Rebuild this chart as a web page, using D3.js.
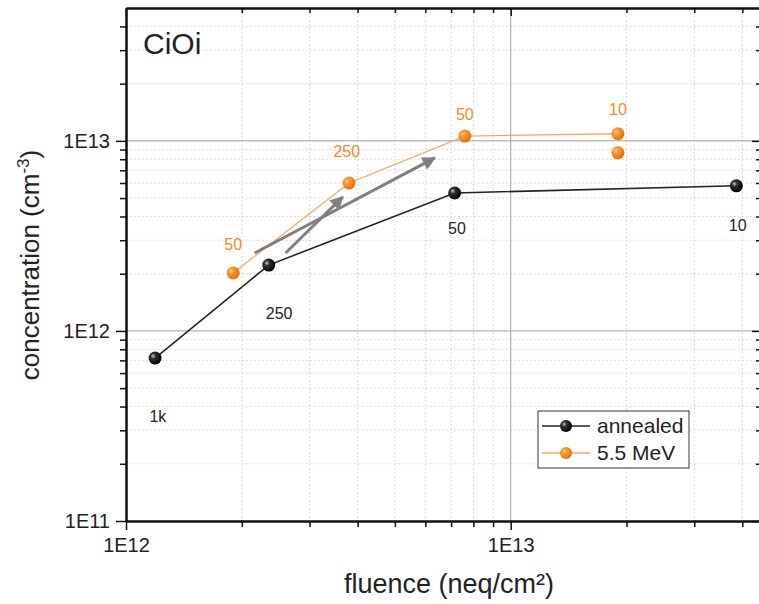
<!DOCTYPE html>
<html>
<head>
<meta charset="utf-8">
<script src="https://cdn.jsdelivr.net/npm/d3@7"></script>
<style>
  body { margin: 0; background: #fff; }
  text { font-family: "Liberation Sans", Arial, sans-serif; }
</style>
</head>
<body>
<svg id="chart"></svg>
<script>
var width = 759, height = 604;

// data
var annealedFluence = [1.19e12, 2.35e12, 7.15e12, 3.86e13];
var annealedConc    = [7.2e11, 2.22e12, 5.32e12, 5.8e12];
var annealedLabels  = ["1k", "250", "50", "10"];
var annealedLabelPos = [[1.21e12, 3.57e11], [2.5e12, 1.24e12], [7.25e12, 3.48e12], [3.89e13, 3.6e12]];

var mevFluence = [1.9e12, 3.8e12, 7.6e12, 1.9e13];
var mevConc    = [2.02e12, 6.0e12, 1.06e13, 1.09e13];
var mevLabels  = ["50", "250", "50", "10"];
var mevLabelPos = [[1.9e12, 2.84e12], [3.75e12, 8.75e12], [7.6e12, 1.37e13], [1.9e13, 1.47e13]];
// extra unconnected point
var mevExtraFluence = [1.9e13];
var mevExtraConc = [8.65e12];

// arrows [x1, y1, x2, y2] in data units
var arrows = [
  [2.16e12, 2.57e12, 6.35e12, 8.14e12],
  [2.6e12, 2.57e12, 3.66e12, 5.07e12]
];

var xMajor = [1e12, 1e13];
var xMinor = [2e12, 3e12, 4e12, 5e12, 6e12, 7e12, 8e12, 9e12, 2e13, 3e13, 4e13];
var yMajor = [1e11, 1e12, 1e13];
var yMinor = [2e11, 3e11, 4e11, 5e11, 6e11, 7e11, 8e11, 9e11,
              2e12, 3e12, 4e12, 5e12, 6e12, 7e12, 8e12, 9e12,
              2e13, 3e13, 4e13];

var pLeft = 126, pRight = 762, pTop = 8, pBottom = 521;

var svg = d3.select("#chart").attr("width", width).attr("height", height);
svg.append("rect").attr("width", width).attr("height", height).attr("fill", "#fff");

var x = d3.scaleLog().domain([1e12, 4.5e13]).range([pLeft, pRight]);
var y = d3.scaleLog().domain([1e11, 5e13]).range([pBottom, pTop]);

var fmt = function(d){ return "1E" + Math.round(Math.log10(d)); };

// gradients for the balls
var defs = svg.append("defs");
function ball(id, c0, c1, c2){
  var g = defs.append("radialGradient").attr("id", id)
    .attr("cx", "35%").attr("cy", "35%").attr("r", "65%");
  g.append("stop").attr("offset", "0%").attr("stop-color", c0);
  g.append("stop").attr("offset", "30%").attr("stop-color", c1);
  g.append("stop").attr("offset", "100%").attr("stop-color", c2);
}
ball("ballBlack", "#d0d0d0", "#333", "#000");
ball("ballOrange", "#ffe0b8", "#ff9a2e", "#e8700a");

defs.append("marker").attr("id", "head")
  .attr("viewBox", "0 0 10 10").attr("refX", 9).attr("refY", 5)
  .attr("markerWidth", 5).attr("markerHeight", 4.5).attr("orient", "auto")
  .attr("markerUnits", "strokeWidth")
  .append("path").attr("d", "M0,0L10,5L0,10Z").attr("fill", "#7f7f7f");

// grid
var grid = svg.append("g");
grid.selectAll(".gx").data(xMinor).enter().append("line")
  .attr("x1", x).attr("x2", x).attr("y1", pTop).attr("y2", pBottom)
  .attr("stroke", "#d0d0d0").attr("stroke-dasharray", "1.5,2.5");
grid.selectAll(".gy").data(yMinor).enter().append("line")
  .attr("y1", y).attr("y2", y).attr("x1", pLeft).attr("x2", pRight)
  .attr("stroke", "#d0d0d0").attr("stroke-dasharray", "1.5,2.5");
grid.selectAll(".gX").data([1e13]).enter().append("line")
  .attr("x1", x).attr("x2", x).attr("y1", pTop).attr("y2", pBottom)
  .attr("stroke", "#a0a0a0");
grid.selectAll(".gY").data([1e12, 1e13]).enter().append("line")
  .attr("y1", y).attr("y2", y).attr("x1", pLeft).attr("x2", pRight)
  .attr("stroke", "#a0a0a0");

// axes
function styleAxis(g){
  g.select(".domain").attr("stroke", "#111").attr("stroke-width", 2);
  g.selectAll(".tick line").attr("stroke", "#111").attr("stroke-width", 1.5);
  g.selectAll("text").attr("font-size", 20).attr("fill", "#222")
    .style("font-family", "'Liberation Sans', Arial, sans-serif");
}
svg.append("g").attr("transform", "translate(0," + pBottom + ")")
  .call(d3.axisBottom(x).tickValues(xMajor).tickFormat(fmt).tickSize(9).tickPadding(8).tickSizeOuter(0))
  .call(styleAxis);
svg.append("g").attr("transform", "translate(0," + pBottom + ")")
  .call(d3.axisBottom(x).tickValues(xMinor).tickFormat("").tickSize(6).tickSizeOuter(0))
  .call(styleAxis);
svg.append("g").attr("transform", "translate(0," + pTop + ")")
  .call(d3.axisBottom(x).tickValues(xMajor).tickFormat("").tickSize(8).tickSizeOuter(0))
  .call(styleAxis);
svg.append("g").attr("transform", "translate(0," + pTop + ")")
  .call(d3.axisBottom(x).tickValues(xMinor).tickFormat("").tickSize(5).tickSizeOuter(0))
  .call(styleAxis);
svg.append("g").attr("transform", "translate(" + pLeft + ",0)")
  .call(d3.axisLeft(y).tickValues(yMajor).tickFormat(fmt).tickSize(10).tickPadding(6).tickSizeOuter(0))
  .call(styleAxis);
svg.append("g").attr("transform", "translate(" + pLeft + ",0)")
  .call(d3.axisLeft(y).tickValues(yMinor).tickFormat("").tickSize(6).tickSizeOuter(0))
  .call(styleAxis);
svg.append("g").attr("transform", "translate(" + pRight + ",0)")
  .call(d3.axisLeft(y).tickValues(yMajor).tickFormat("").tickSize(10).tickSizeOuter(0))
  .call(styleAxis);
svg.append("g").attr("transform", "translate(" + pRight + ",0)")
  .call(d3.axisLeft(y).tickValues(yMinor).tickFormat("").tickSize(6).tickSizeOuter(0))
  .call(styleAxis);

// lines
var line = d3.line().x(function(d){ return x(d[0]); }).y(function(d){ return y(d[1]); });
var annealed = d3.zip(annealedFluence, annealedConc);
var mev = d3.zip(mevFluence, mevConc);

svg.append("path").datum(mev).attr("d", line)
  .attr("fill", "none").attr("stroke", "#f5a865").attr("stroke-width", 1.3);
svg.append("path").datum(annealed).attr("d", line)
  .attr("fill", "none").attr("stroke", "#222").attr("stroke-width", 1.6);

// arrows
svg.selectAll(".arrow").data(arrows).enter().append("line")
  .attr("x1", function(d){ return x(d[0]); }).attr("y1", function(d){ return y(d[1]); })
  .attr("x2", function(d){ return x(d[2]); }).attr("y2", function(d){ return y(d[3]); })
  .attr("stroke", "#7f7f7f").attr("stroke-width", 3).attr("marker-end", "url(#head)");

// points
svg.selectAll(".pm").data(mev.concat(d3.zip(mevExtraFluence, mevExtraConc))).enter().append("circle")
  .attr("cx", function(d){ return x(d[0]); }).attr("cy", function(d){ return y(d[1]); })
  .attr("r", 6.5).attr("fill", "url(#ballOrange)");
svg.selectAll(".pa").data(annealed).enter().append("circle")
  .attr("cx", function(d){ return x(d[0]); }).attr("cy", function(d){ return y(d[1]); })
  .attr("r", 6.5).attr("fill", "url(#ballBlack)");

// point labels
svg.selectAll(".la").data(annealedLabels).enter().append("text")
  .attr("x", function(d, i){ return x(annealedLabelPos[i][0]); })
  .attr("y", function(d, i){ return y(annealedLabelPos[i][1]); })
  .attr("dy", "0.35em").attr("text-anchor", "middle")
  .attr("font-size", 16).attr("fill", "#222").text(function(d){ return d; });
svg.selectAll(".lm").data(mevLabels).enter().append("text")
  .attr("x", function(d, i){ return x(mevLabelPos[i][0]); })
  .attr("y", function(d, i){ return y(mevLabelPos[i][1]); })
  .attr("dy", "0.35em").attr("text-anchor", "middle")
  .attr("font-size", 16).attr("fill", "#f28a2a").text(function(d){ return d; });

// title
svg.append("text").attr("x", 143).attr("y", 54).attr("font-size", 30)
  .attr("fill", "#222").text("CiOi");

// axis titles
svg.append("text").attr("x", 449).attr("y", 593).attr("text-anchor", "middle")
  .attr("font-size", 27).attr("fill", "#222").text("fluence (neq/cm²)");
var yt = svg.append("text").attr("transform", "translate(39,265) rotate(-90)")
  .attr("text-anchor", "middle").attr("font-size", 26).attr("fill", "#222");
yt.append("tspan").text("concentration (cm");
yt.append("tspan").attr("font-size", 17).attr("dy", -10).text("-3");
yt.append("tspan").attr("dy", 10).text(")");

// legend
var legend = svg.append("g").attr("transform", "translate(538,411)");
legend.append("rect").attr("width", 151).attr("height", 57)
  .attr("fill", "#fff").attr("stroke", "#333").attr("stroke-width", 1);
var legItems = [["annealed", "#222", "url(#ballBlack)"], ["5.5 MeV", "#f5a865", "url(#ballOrange)"]];
var li = legend.selectAll(".li").data(legItems).enter().append("g")
  .attr("transform", function(d, i){ return "translate(0," + (15 + i * 27) + ")"; });
li.append("line").attr("x1", 4).attr("x2", 52).attr("stroke", function(d){ return d[1]; })
  .attr("stroke-width", 1.5);
li.append("circle").attr("cx", 28).attr("r", 6).attr("fill", function(d){ return d[2]; });
li.append("text").attr("x", 59).attr("dy", "0.35em").attr("font-size", 21)
  .attr("fill", "#222").text(function(d){ return d[0]; });
</script>
</body>
</html>
